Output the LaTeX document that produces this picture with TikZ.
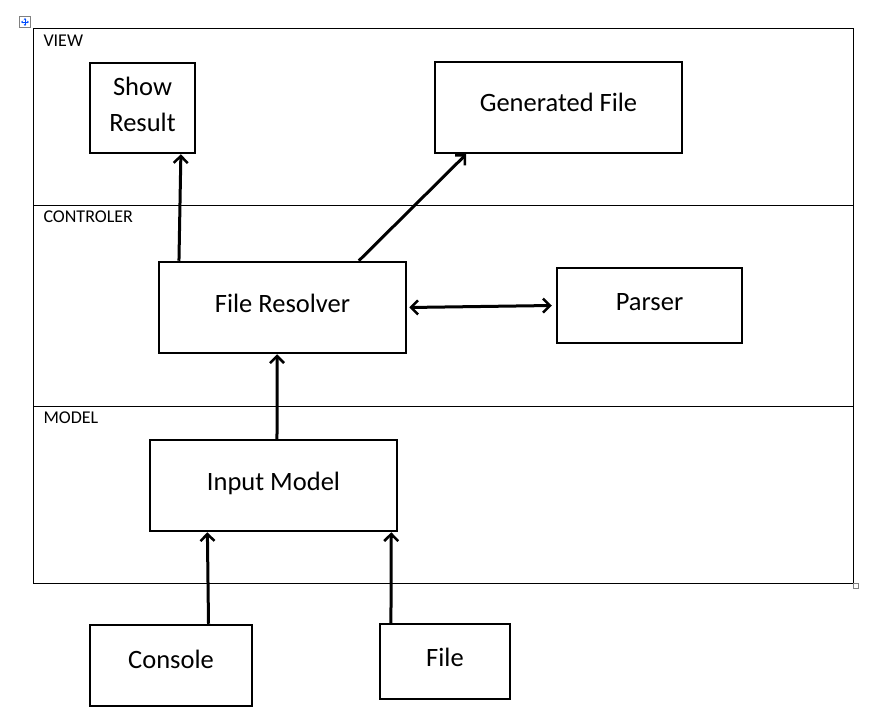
\documentclass[tikz,border=0pt]{standalone}
\usepackage{fontspec}
\setmainfont{Carlito}
\usetikzlibrary{positioning,arrows.meta,calc}

\begin{document}
\begin{tikzpicture}[
    x=1pt,
    y=-1pt,
    >={Straight Barb[length=7pt,width=14pt,line width=2.5pt]},
    line width=3pt
]

\tikzstyle{block}=[
    rectangle,
    draw,
    line width=2.5pt,
    align=center,
    inner sep=0pt,
    text height=18pt,
    text depth=9pt,
    font=\fontsize{26.5}{36}\selectfont
]
\tikzstyle{layer}=[
    anchor=west,
    inner sep=0pt,
    font=\fontsize{18}{20}\selectfont
]

\useasboundingbox (0,0) rectangle (872,719);

% layers
\draw[line width=1pt] (33,29) rectangle (853,583);
\draw[line width=0.8pt] (33,205) -- (853,205);
\draw[line width=0.8pt] (33,406) -- (853,406);

\node[layer] (view) at (42,41) {VIEW};
\node[layer] (ctrl) at (42,217) {CONTROLER};
\node[layer] (model) at (42,418) {MODEL};

% word handles
\draw[gray, line width=0.6pt] (19.5,16.5) rectangle (30.5,27.5);
\draw[blue!70!cyan, line width=0.7pt, {Stealth[length=2pt,width=2.5pt]}-{Stealth[length=2pt,width=2.5pt]}] (21,22) -- (29,22);
\draw[blue!70!cyan, line width=0.7pt, {Stealth[length=2pt,width=2.5pt]}-{Stealth[length=2pt,width=2.5pt]}] (25,18) -- (25,26);
\draw[gray, line width=0.8pt] (853.5,583.5) rectangle (858.5,588.5);

% blocks
\node[block, minimum width=105, minimum height=90, text height=, text depth=8pt] (show) at (142.5,108) {Show\\Result};
\node[block, minimum width=247, minimum height=91] (gen) at (558.5,107.5) {Generated File};
\node[block, minimum width=247, minimum height=91] (resolver) at (282.5,307.5) {File Resolver};
\node[block, minimum width=185, minimum height=75] (parser) at (649.5,305.5) {Parser};
\node[block, minimum width=247, minimum height=91] (input) at (273.5,485.5) {Input Model};
\node[block, minimum width=162, minimum height=81, text depth=13pt] (console) at (171,665.5) {Console};
\node[block, minimum width=130, minimum height=75] (file) at (445,661.5) {File};

% connectors
\draw[->] ($(resolver.north west)!0.085!(resolver.north east)$) -- ($(show.south west)!0.857!(show.south east)$);
\draw[->] ($(resolver.north west)!0.806!(resolver.north east)$) -- ($(gen.south west)!0.13!(gen.south east)$);
\draw[<->] ([xshift=2]resolver.east) -- ([xshift=-4]parser.west);
\draw[->] ($(input.north west)!0.514!(input.north east)$) -- ($(resolver.south west)!0.478!(resolver.south east)$);
\draw[->] ($(console.north west)!0.728!(console.north east)$) -- ($(input.south west)!0.235!(input.south east)$);
\draw[->] ($(file.north west)!0.092!(file.north east)$) -- ($(input.south west)!0.972!(input.south east)$);

\end{tikzpicture}
\end{document}
